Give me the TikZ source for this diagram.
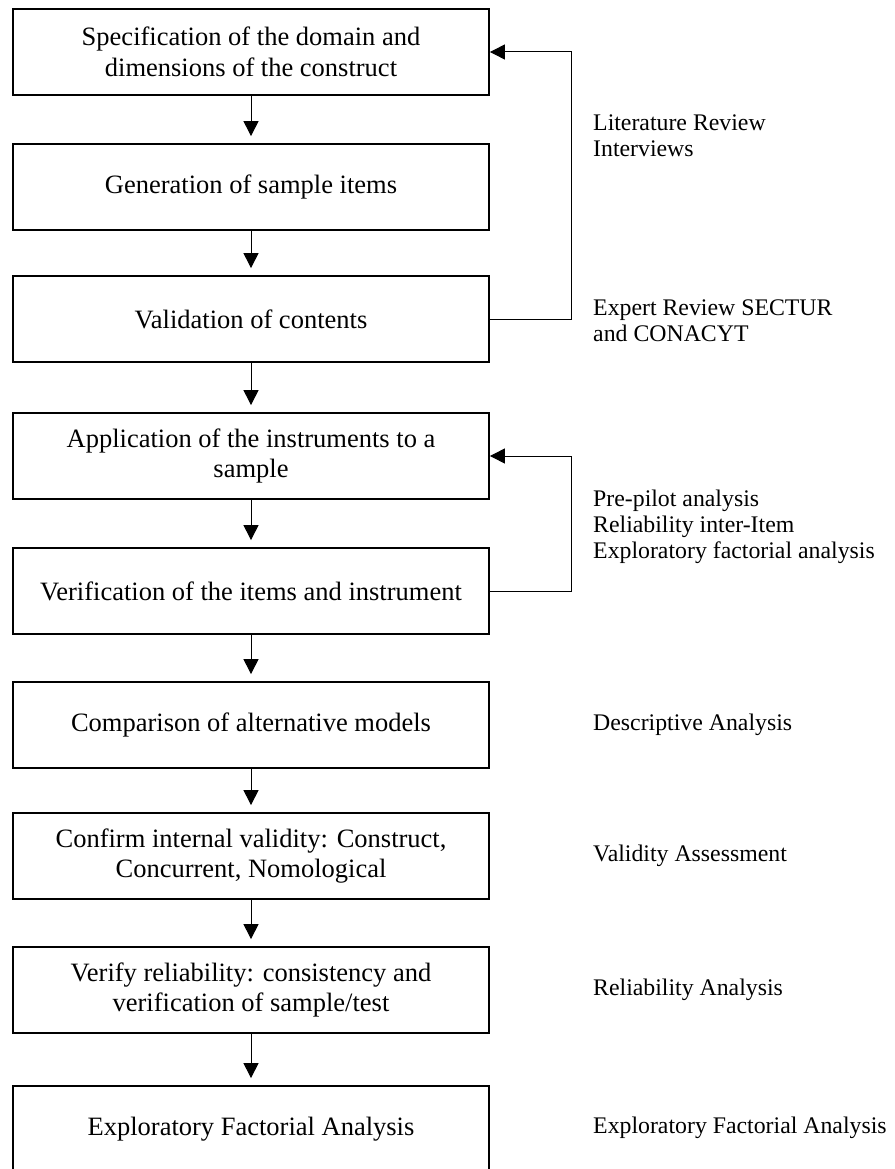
\documentclass[tikz,border=0pt]{standalone}
\usepackage{fontspec}
\setmainfont{Liberation Serif}
\usetikzlibrary{arrows.meta}

\begin{document}
\begin{tikzpicture}[x=1pt,y=-1pt,
  stage/.style={draw,line width=1.8pt,minimum width=476pt,minimum height=86pt,
    inner sep=0pt,align=center,font=\fontsize{26.5}{30.5}\selectfont},
  note/.style={anchor=west,inner sep=0pt,align=left,font=\fontsize{23.8}{26}\selectfont},
  flow/.style={line width=1pt,-{Triangle[width=15pt,length=15pt]},shorten >=7pt},
  back/.style={line width=1pt,-{Triangle[width=15pt,length=15pt]}}]
\useasboundingbox (0,0) rectangle (894,1169);
\clip (0,0) rectangle (894,1169);

\node[stage] (spec) at (251,52) {Specification of the domain and\\dimensions of the construct};
\node[stage] (gen) at (251,187) {Generation of sample items};
\node[stage] (valid) at (251,319) {Validation of contents};
\node[stage] (appl) at (251,456) {Application of the instruments to a\\sample};
\node[stage] (verif) at (251,591) {Verification of the items and instrument};
\node[stage] (comp) at (251,725) {Comparison of alternative models};
\node[stage] (confirm) at (251,856) {Confirm internal validity: Construct,\\Concurrent, Nomological};
\node[stage] (rely) at (251,990) {Verify reliability: consistency and\\verification of sample/test};
\node[stage] (efa) at (251,1129) {Exploratory Factorial Analysis};

\draw[flow] (spec) -- (gen);
\draw[flow] (gen) -- (valid);
\draw[flow] (valid) -- (appl);
\draw[flow] (appl) -- (verif);
\draw[flow] (verif) -- (comp);
\draw[flow] (comp) -- (confirm);
\draw[flow] (confirm) -- (rely);
\draw[flow] (rely) -- (efa);

\draw[back] (valid.east) -- ++(82,0) |- (spec.east);
\draw[back] (verif.east) -- ++(82,0) |- (appl.east);

\node[note] (lit) at (593,136) {Literature Review\\Interviews};
\node[note] (expert) at (593,321) {Expert Review SECTUR\\and CONACYT};
\node[note] (pilot) at (593,527) {Pre-pilot analysis\\Reliability inter-Item\\Exploratory factorial analysis};
\node[note] (desc) at (593,725) {Descriptive Analysis};
\node[note] (vass) at (593,856) {Validity Assessment};
\node[note] (rana) at (593,990) {Reliability Analysis};
\node[note] (efanote) at (593,1128) {Exploratory Factorial Analysis};
\end{tikzpicture}
\end{document}
